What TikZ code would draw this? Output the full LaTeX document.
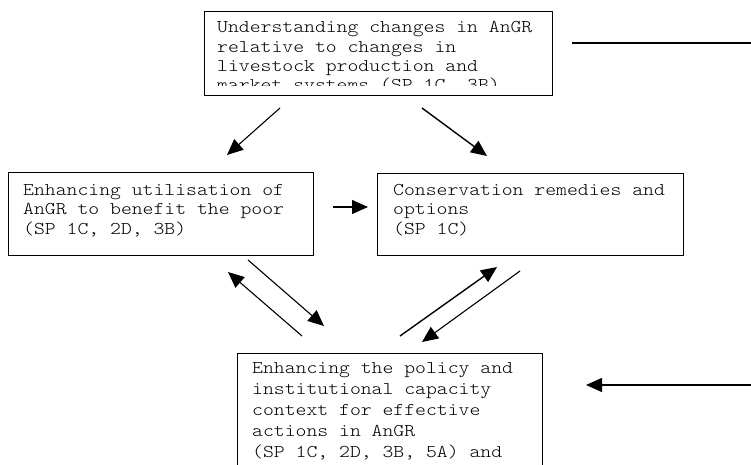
\documentclass[tikz,border=0pt]{standalone}
\usepackage{fontspec}
\newfontfamily\courfont[FakeStretch=1.15]{Latin Modern Mono Light}
\usetikzlibrary{arrows.meta}
\newcommand{\boxtext}[2]{\parbox[t]{330pt}{\courfont\fontsize{18}{#1}\selectfont #2}}
\begin{document}
\begin{tikzpicture}[x=1pt,y=-1pt,
  box/.style={draw, line width=1.4pt, inner sep=0pt, anchor=north west},
  lbl/.style={anchor=base west, inner sep=0pt},
  arr/.style={line width=1.1pt, -{Triangle[length=16pt,width=14pt]}},
  ]
\useasboundingbox (0,0) rectangle (751,465);
\clip (0,0) rectangle (751,465);
% boxes
\node[box, minimum width=348pt, minimum height=84pt] (topbox) at (204,11) {};
\node[box, minimum width=305pt, minimum height=83pt] (leftbox) at (8,172) {};
\node[box, minimum width=306pt, minimum height=82pt] (rightbox) at (377,173) {};
\node[box, minimum width=305pt, minimum height=140pt] (botbox) at (237,353) {};
% texts
\begin{scope}
\clip (topbox.north west) rectangle ([yshift=11pt]topbox.south east);
\node[lbl] (toptext) at (217,33) {\boxtext{19.3}{Understanding changes in AnGR\\relative to changes in\\livestock production and\\market systems (SP 1C, 3B)}};
\end{scope}
\node[lbl] (lefttext) at (23,195) {\boxtext{19.5}{Enhancing utilisation of\\AnGR to benefit the poor\\(SP 1C, 2D, 3B)}};
\node[lbl] (righttext) at (393,195) {\boxtext{19.5}{Conservation remedies and\\options\\(SP 1C)}};
\node[lbl] (bottext) at (252,373) {\boxtext{21}{Enhancing the policy and\\institutional capacity\\context for effective\\actions in AnGR\\(SP 1C, 2D, 3B, 5A) and}};
% connector end points
\coordinate (tlS) at (280,108); \coordinate (tlE) at (227,155);
\coordinate (trS) at (422,108); \coordinate (trE) at (487,156);
\coordinate (lrS) at (333,207); \coordinate (lrE) at (368,207);
\coordinate (aS) at (302,336);  \coordinate (aE) at (228,272);
\coordinate (bS) at (248,260);  \coordinate (bE) at (324,326);
\coordinate (cS) at (400,336);  \coordinate (cE) at (497,267);
\coordinate (dS) at (520,271);  \coordinate (dE) at (422,342);
\coordinate (topR) at (572,43); \coordinate (topRend) at (751,43);
\coordinate (botR) at (751,385); \coordinate (botRE) at (586,385);
% connectors
\draw[arr] (tlS) -- (tlE);
\draw[arr, line width=1.4pt] (trS) -- (trE);
\draw[arr] (lrS) -- (lrE);
\draw[arr] (aS) -- (aE);
\draw[arr] (bS) -- (bE);
\draw[arr, line width=1.4pt] (cS) -- (cE);
\draw[arr] (dS) -- (dE);
\draw[line width=1.4pt] (topR) -- (topRend);
\draw[arr, line width=1.4pt] (botR) -- (botRE);
\end{tikzpicture}
\end{document}
